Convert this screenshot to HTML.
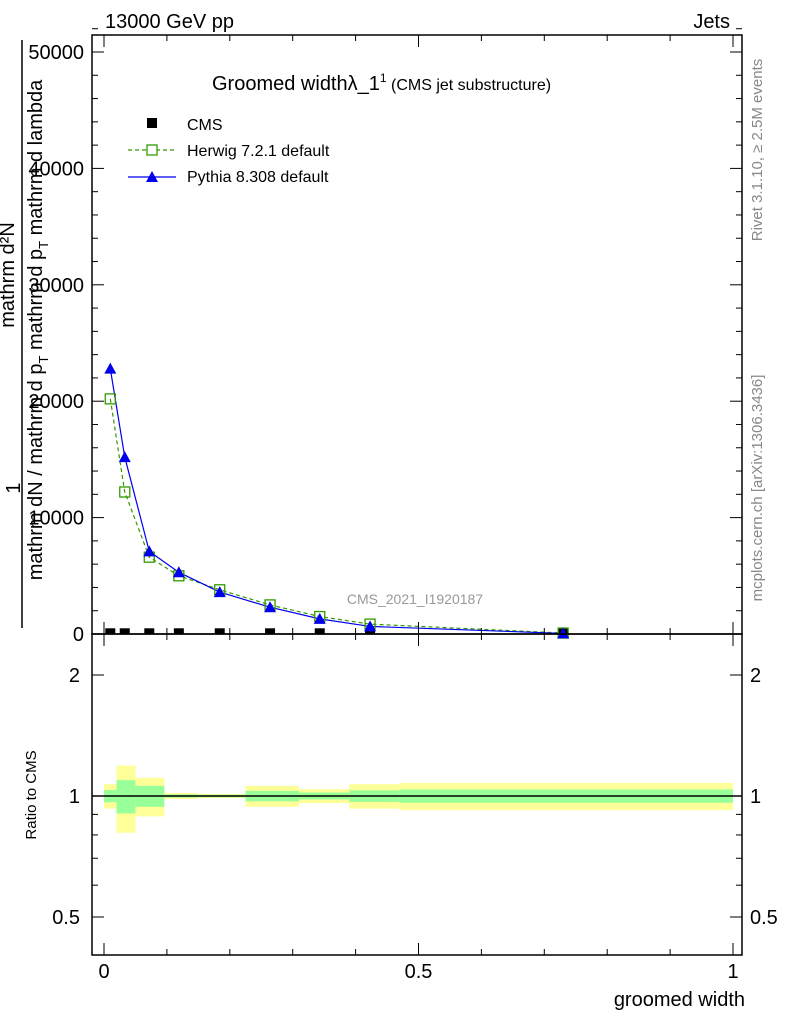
<!DOCTYPE html>
<html><head><meta charset="utf-8"><style>
body{margin:0;background:#fff;}
svg text{font-family:"Liberation Sans",sans-serif;}
</style></head><body>
<svg id="c" width="786" height="1024" viewBox="0 0 786 1024" xmlns="http://www.w3.org/2000/svg">
<g id="bands"></g>
<g id="main"></g>
<rect x="92" y="35" width="650" height="599" fill="none" stroke="#000" stroke-width="1.5"/>
<rect x="92" y="634" width="650" height="321" fill="none" stroke="#000" stroke-width="1.5"/>
<g id="ticks"></g>
<text x="105" y="28" font-size="20">13000 GeV pp</text>
<text x="730" y="28" font-size="20" text-anchor="end">Jets</text>
<text x="212" y="90" font-size="20">Groomed width<tspan>λ_1</tspan><tspan font-size="12" dy="-8">1</tspan><tspan font-size="16" dy="8"> (CMS jet substructure)</tspan></text>
<g>
<rect x="147" y="118" width="10" height="10" fill="#000"/>
<text x="187" y="130" font-size="16">CMS</text>
<line x1="128" y1="150" x2="176" y2="150" stroke="#339900" stroke-dasharray="4,3" stroke-width="1.2"/>
<rect x="147" y="145" width="10" height="10" fill="#fff" stroke="#339900" stroke-width="1.3"/>
<text x="187" y="156" font-size="16">Herwig 7.2.1 default</text>
<line x1="128" y1="177" x2="176" y2="177" stroke="#0000ee" stroke-width="1.2"/>
<polygon points="152,171 158,182 146,182" fill="#0000ee"/>
<text x="187" y="182" font-size="16">Pythia 8.308 default</text>
</g>
<text x="415" y="604" font-size="14" fill="#999" text-anchor="middle">CMS_2021_I1920187</text>
<g transform="translate(762,150) rotate(-90)"><text font-size="15" fill="#888" text-anchor="middle">Rivet 3.1.10, ≥ 2.5M events</text></g>
<g transform="translate(762,488) rotate(-90)"><text font-size="15" fill="#888" text-anchor="middle">mcplots.cern.ch [arXiv:1306.3436]</text></g>
<g>
<g transform="translate(20,488) rotate(-90)"><text font-size="20" text-anchor="middle">1</text></g>
<line x1="22" y1="40" x2="22" y2="628" stroke="#000" stroke-width="1.5"/>
<g transform="translate(14,275) rotate(-90)"><text font-size="20" text-anchor="middle">mathrm d²N</text></g>
<g transform="translate(42,330) rotate(-90)"><text font-size="20" text-anchor="middle">mathrm dN / mathrm d p<tspan font-size="13" dy="6">T</tspan><tspan dy="-6"> mathrm d p</tspan><tspan font-size="13" dy="6">T</tspan><tspan dy="-6"> mathrm d lambda</tspan></text></g>
</g>
<g transform="translate(36,795) rotate(-90)"><text font-size="15" text-anchor="middle">Ratio to CMS</text></g>
<text x="745" y="1006" font-size="20" text-anchor="end">groomed width</text>
</svg>
<script>
const edges=[0,0.02,0.05,0.096,0.148,0.225,0.31,0.39,0.47,1.0];
const xs=[0.01,0.033,0.072,0.119,0.184,0.264,0.343,0.423,0.73];
const cms=[60,60,60,60,60,60,60,60,60];
const herwig=[20200,12200,6600,5000,3800,2500,1500,850,80];
const pythia=[22800,15200,7100,5300,3600,2300,1300,650,50];
const yellowErr=[0.07,0.19,0.11,0.017,0.012,0.06,0.04,0.07,0.078];
const greenErr=[0.035,0.095,0.06,0.009,0.007,0.03,0.02,0.033,0.038];
const yTicks=[0,10000,20000,30000,40000,50000];
const yTickLabels=["0","10000","20000","30000","40000","50000"];
const rTicks=[0.5,1,2];
const rTickLabels=["0.5","1","2"];
const xTicks=[0,0.5,1];
const xTickLabels=["0","0.5","1"];
const NS="http://www.w3.org/2000/svg";
const X=v=>104+v*629;
const Y=v=>634-v*0.01164;
const R=v=>796-121*Math.log2(v);
function mk(t,a,p){const e=document.createElementNS(NS,t);for(const k in a)e.setAttribute(k,a[k]);p.appendChild(e);return e;}
const bands=document.getElementById('bands'),main=document.getElementById('main'),ticks=document.getElementById('ticks');
for(let i=0;i<xs.length;i++){
 const x0=X(edges[i]),x1=Math.min(X(edges[i+1]),741);
 let e=mk('rect',{x:x0,y:R(1+yellowErr[i]),width:x1-x0,height:R(1-yellowErr[i])-R(1+yellowErr[i]),fill:'#ffff99'},bands);
 
 
 e=mk('rect',{x:x0,y:R(1+greenErr[i]),width:x1-x0,height:R(1-greenErr[i])-R(1+greenErr[i]),fill:'#99ff99'},bands);
 
 
}
let l=mk('line',{x1:92,x2:742,y1:R(1),y2:R(1),stroke:'#000','stroke-width':1.5},bands);


let hp=xs.map((x,i)=>X(x)+','+Y(herwig[i])).join(' ');
l=mk('polyline',{points:hp,fill:'none',stroke:'#339900','stroke-dasharray':'4,3','stroke-width':1.2},main);


let pp=xs.map((x,i)=>X(x)+','+Y(pythia[i])).join(' ');
l=mk('polyline',{points:pp,fill:'none',stroke:'#0000ee','stroke-width':1.2},main);


for(let i=0;i<xs.length;i++){
 const x=X(xs[i]);
 const cy=Y(cms[i]);
 let e=mk('rect',{x:x-5,y:cy-5,width:10,height:6,fill:'#000'},main);
 
 
 e=mk('rect',{x:x-5,y:Y(herwig[i])-5,width:10,height:10,fill:'none',stroke:'#339900','stroke-width':1.3},main);
 
 
 const py=Y(pythia[i]);
 e=mk('polygon',{points:`${x},${py-6} ${x+6},${py+5} ${x-6},${py+5}`,fill:'#0000ee'},main);
 
 
}
for(let v=0;v<=52000;v+=2000){
 const y=Y(v),big=v%10000===0;
 mk('line',{x1:92,x2:92+(big?12:6),y1:y,y2:y,stroke:'#000'},ticks);
 mk('line',{x1:742,x2:742-(big?12:6),y1:y,y2:y,stroke:'#000'},ticks);
}
yTicks.forEach((v,i)=>{const t=mk('text',{x:84,y:Y(v)+7,'font-size':20,'text-anchor':'end'},ticks);t.textContent=yTickLabels[i];
 
 });
[0.5,0.6,0.7,0.8,0.9,1,2].forEach(v=>{const y=R(v),big=rTicks.includes(v);
 mk('line',{x1:92,x2:92+(big?12:6),y1:y,y2:y,stroke:'#000'},ticks);
 mk('line',{x1:742,x2:742-(big?12:6),y1:y,y2:y,stroke:'#000'},ticks);});
rTicks.forEach((v,i)=>{let t=mk('text',{x:80,y:R(v)+7,'font-size':20,'text-anchor':'end'},ticks);t.textContent=rTickLabels[i];
 
 
 t=mk('text',{x:750,y:R(v)+7,'font-size':20},ticks);t.textContent=rTickLabels[i];
 
 });
for(let k=0;k<=10;k++){const v=k/10,x=X(v),big=(k%5===0);
 [[634,-1],[634,1],[955,-1],[35,1]].forEach(([y0,d])=>mk('line',{x1:x,x2:x,y1:y0,y2:y0+d*(big?12:6),stroke:'#000'},ticks));}
xTicks.forEach((v,i)=>{const t=mk('text',{x:X(v),y:978,'font-size':20,'text-anchor':'middle'},ticks);t.textContent=xTickLabels[i];
 
 });
</script>
</body></html>
